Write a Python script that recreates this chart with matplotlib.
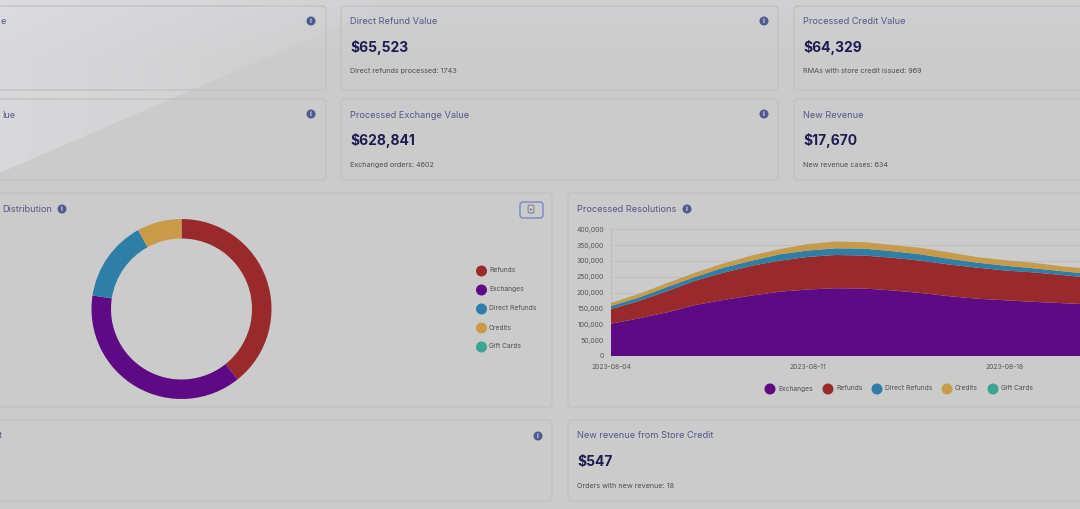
import numpy as np
import pandas as pd
import matplotlib
matplotlib.use("Agg")
import matplotlib.pyplot as plt
from matplotlib.patches import FancyBboxPatch, Circle
from matplotlib.ticker import FuncFormatter

plt.rcParams['font.family'] = ['Inter', 'DejaVu Sans']

W, H = 1080, 509
BG = '#cbcbcb'
BORDER = '#c0c0c0'
TITLE = '#55578a'
VALUE = '#1d1c52'
SUB = '#4f4f55'
ICON = '#4e5a90'
PURPLE, RED, BLUE, GOLD, TEAL = '#5f0a85', '#982a2b', '#2e7fa8', '#c99a48', '#3ba594'

# Stacked area data, thousands of resolutions per day
start_date = '2023-08-04'
exchanges = [102, 119, 138, 161, 177, 191, 203, 210, 214, 213, 207, 199, 189, 181, 176, 171, 167, 163]
refunds = [46, 55, 67, 77, 86, 94, 98, 103, 105, 104, 103, 102, 100, 98, 94, 93, 89, 84]
direct_refunds = [10, 11, 13, 12, 16, 16, 20, 20, 21, 22, 21, 20, 18, 16, 15, 13, 12, 12]
credits = [9, 11, 12, 13, 13, 16, 16, 20, 21, 20, 19, 20, 20, 17, 17, 17, 15, 16]
gift_cards = [0.3] * 18

area_labels = ['Exchanges', 'Refunds', 'Direct Refunds', 'Credits', 'Gift Cards']
area_colors = [PURPLE, RED, BLUE, GOLD, TEAL]
y_ticks = [0, 50000, 100000, 150000, 200000, 250000, 300000, 350000, 400000]
x_tick_labels = ['2023-08-04', '2023-08-11', '2023-08-18']

# Donut data, share of resolutions
donut_labels = ['Refunds', 'Exchanges', 'Direct Refunds', 'Credits', 'Gift Cards']
donut_values = [39.3, 38.1, 14.6, 8.0, 0.0]
donut_colors = [RED, PURPLE, BLUE, GOLD, TEAL]

# Stat cards: title, value, caption
card_titles = ['Direct Refund Value', 'Processed Credit Value', 'Processed Exchange Value',
               'New Revenue', 'New revenue from Store Credit']
card_values = ['$65,523', '$64,329', '$628,841', '$17,670', '$547']
card_captions = ['Direct refunds processed: 1743', 'RMAs with store credit issued: 969',
                 'Exchanged orders: 4602', 'New revenue cases: 634', 'Orders with new revenue: 18']
card_x = [350, 803, 350, 803, 577]
card_y = [21, 21, 115, 115, 436]

fig = plt.figure(figsize=(W / 100, H / 100), dpi=100, facecolor=BG)
bg = fig.add_axes([0, 0, 1, 1])
bg.set_xlim(0, W)
bg.set_ylim(H, 0)
bg.axis('off')

# Page tint and light diagonal sheen at the top-left, blended into one image
yy, xx = np.mgrid[0:H, 0:W]
top = np.clip(1 - yy / 60, 0, 1)
page = np.zeros((H, W, 3))
page[..., 0] = 0.797 + 0.018 * top
page[..., 1] = 0.797 + 0.021 * top
page[..., 2] = 0.797 + 0.028 * top
alpha = np.clip(0.35 * (1 - xx / 400), 0, 1) * (yy < 172 - 149 / 345 * xx)
sheen_colour = np.array([0.95, 0.95, 0.98])
page = page * (1 - alpha[..., None]) + sheen_colour * alpha[..., None]
bg.imshow(page, extent=(0, W, H, 0), aspect='auto', zorder=0, interpolation='bilinear')


def card(x0, y0, x1, y1):
    bg.add_patch(FancyBboxPatch((x0 + 4, y0 + 4), x1 - x0 - 8, y1 - y0 - 8,
                                boxstyle='round,pad=4,rounding_size=4', fc='none',
                                ec=BORDER, lw=0.9, zorder=2))


def info(x, y):
    bg.add_patch(Circle((x, y), 4.5, fc=ICON, ec='none', zorder=3))
    bg.text(x, y + 0.2, 'i', color='#d5d5e0', fontsize=5, fontweight='bold',
            ha='center', va='center', zorder=4)


for rect in [(-10, 6, 326, 90), (341, 6, 778, 90), (794, 6, 1095, 90),
             (-10, 99, 326, 180), (341, 99, 778, 180), (794, 99, 1095, 180),
             (-10, 193, 552, 407), (568, 193, 1095, 407),
             (-10, 420, 552, 501), (568, 420, 1095, 501)]:
    card(*rect)

for p in [(311, 21), (764, 21), (311, 114), (764, 114), (62, 209), (687, 209), (538, 436)]:
    info(*p)

for t, v, c, x, y in zip(card_titles, card_values, card_captions, card_x, card_y):
    bg.text(x, y, t, color=TITLE, fontsize=6.65, va='center', zorder=4)
    bg.text(x, y + 26, v, color=VALUE, fontsize=10, fontweight='bold', va='center', zorder=4)
    bg.text(x, y + 50, c, color=SUB, fontsize=5.2, va='center', zorder=4)

bg.text(6, 21, 'e', color=TITLE, fontsize=6.65, va='center', ha='right', zorder=4)
bg.text(15, 115, 'lue', color=TITLE, fontsize=6.65, va='center', ha='right', zorder=4)
bg.text(52, 209, 'Distribution', color=TITLE, fontsize=6.65, va='center', ha='right', zorder=4)
bg.text(2, 436, 't', color=TITLE, fontsize=6.65, va='center', ha='right', zorder=4)
bg.text(577, 209, 'Processed Resolutions', color=TITLE, fontsize=6.65, va='center', zorder=4)

# Export button
bg.add_patch(FancyBboxPatch((522, 204), 19, 12, boxstyle='round,pad=2,rounding_size=3',
                            fc='none', ec='#6f7fc8', lw=0.9, zorder=4))
bg.add_patch(FancyBboxPatch((528.5, 205.5), 5, 7, boxstyle='round,pad=0.4,rounding_size=1',
                            fc='none', ec='#7a7e95', lw=0.7, zorder=4))
bg.add_patch(Circle((531, 209.5), 1.1, fc='#6f7fa8', ec='none', zorder=5))

# Donut
dax = fig.add_axes([(181.5 - 92) / W, 1 - (309 + 92) / H, 184 / W, 184 / H])
dax.pie(donut_values, colors=donut_colors, startangle=90, counterclock=False, radius=1.0,
        wedgeprops=dict(width=19.5 / 90, linewidth=0), center=(0, 0))
dax.set_xlim(-92 / 90, 92 / 90)
dax.set_ylim(-92 / 90, 92 / 90)
dax.patch.set_alpha(0)

for lab, col, y in zip(donut_labels, donut_colors, [271, 290, 309, 328, 347]):
    bg.add_patch(Circle((481.5, y), 5.5, fc=col, ec='none', zorder=4))
    bg.text(489, y - 0.5, lab, color=SUB, fontsize=4.8, va='center', zorder=4)

# Stacked area
px_left, px_right, px_base, px_top = 611, 1080, 356, 229.3
px_per_day = (1005 - 611) / 14
ax = fig.add_axes([px_left / W, 1 - px_base / H, (px_right - px_left) / W, (px_base - px_top) / H])
dates = pd.date_range(start_date, periods=len(exchanges))
series = [np.array(s) * 1000 for s in (exchanges, refunds, direct_refunds, credits, gift_cards)]
ax.stackplot(dates, *series, colors=area_colors, linewidth=0, zorder=3)
ax.set_xlim(dates[0], dates[0] + pd.Timedelta(days=(px_right - px_left) / px_per_day))
ax.set_ylim(0, 400000)
ax.patch.set_alpha(0)
ax.set_yticks(y_ticks)
ax.yaxis.set_major_formatter(FuncFormatter(lambda v, _: f'{int(v):,}'))
ax.set_xticks(pd.to_datetime(x_tick_labels))
ax.set_xticklabels(x_tick_labels)
ax.tick_params(axis='both', length=0, labelsize=4.9, labelcolor='#55555a')
ax.tick_params(axis='y', pad=5)
ax.tick_params(axis='x', pad=6)
ax.grid(axis='y', color='#bfbfbf', lw=0.7, zorder=0)
for s in ['top', 'right', 'bottom']:
    ax.spines[s].set_visible(False)
ax.spines['left'].set_color('#bfbfbf')

for lab, col, cx in zip(area_labels, area_colors, [770, 828, 877, 947, 993]):
    bg.add_patch(Circle((cx, 389), 5.5, fc=col, ec='none', zorder=4))
    bg.text(cx + 8, 388.5, lab, color=SUB, fontsize=4.8, va='center', zorder=4)

fig.savefig('out.png', dpi=100, facecolor=BG)
